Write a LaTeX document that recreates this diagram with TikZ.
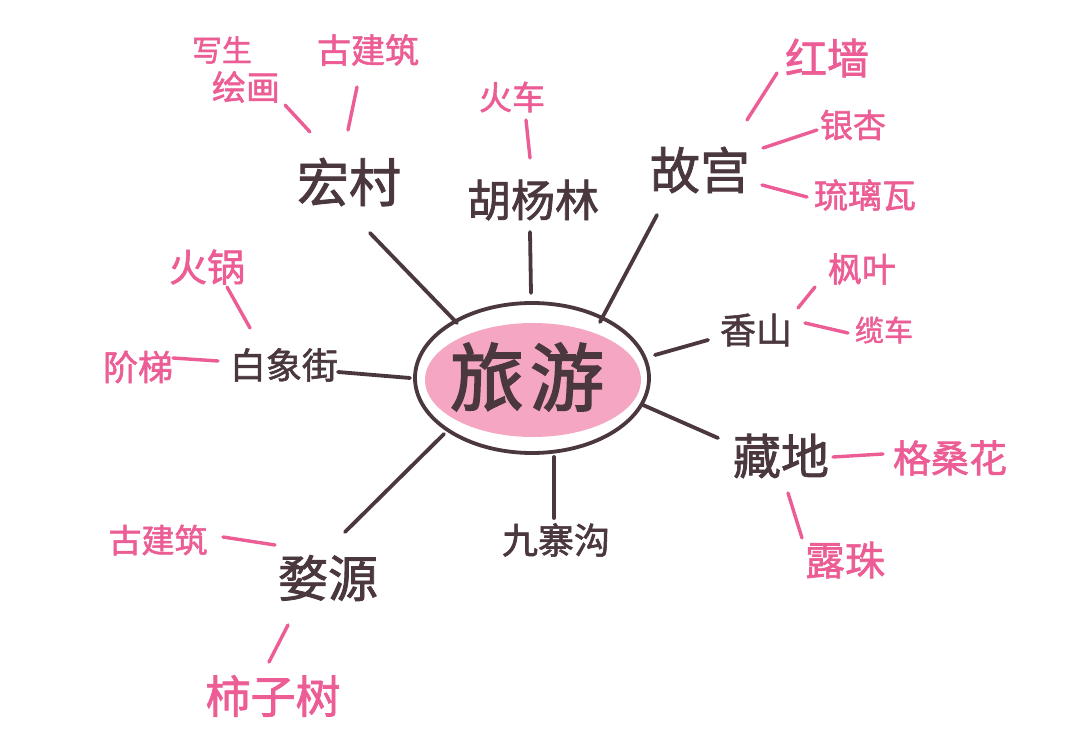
\documentclass[tikz,border=0pt]{standalone}
\usepackage{fontspec}
\newfontfamily\cjk[FakeBold=1.6]{Noto Sans CJK SC}
\newfontfamily\cjkt[FakeBold=2.2]{Noto Sans CJK SC}
\usetikzlibrary{calc,shapes.geometric}
\definecolor{ink}{HTML}{4B383F}
\definecolor{rose}{HTML}{EC5D95}
\definecolor{blush}{HTML}{F5A6C2}
\begin{document}
\begin{tikzpicture}[x=1pt,y=-1pt,
  hub/.style={font=\cjk\fontsize{#1}{#1}\selectfont, text=ink, inner sep=0pt},
  leaf/.style={font=\cjk\fontsize{#1}{#1}\selectfont, text=rose, inner sep=0pt},
  branch/.style={draw=ink, line width=3.8pt, line cap=round},
  twig/.style={draw=rose, line width=3.4pt, line cap=round}]
\useasboundingbox (0,0) rectangle (1080,754);
\fill[white] (0,0) rectangle (1080,754);

% centre
\fill[blush] (533,380) ellipse [x radius=108, y radius=57];
\node[ellipse, draw=ink, line width=3.8pt, minimum width=234pt, minimum height=150pt, inner sep=0pt] (main) at (532,378) {};
\node[font=\cjkt\fontsize{74}{74}\selectfont, text=ink, inner sep=0pt] (title) at (527,377) {旅\kern6pt游};

% main branches
\node[hub=52] (hongcun) at (349,182) {宏村};
\node[hub=44] (huyanglin) at (533,200) {胡杨林};
\node[hub=50] (gugong) at (700,170) {故宫};
\node[hub=36] (xiangshan) at (756,330) {香山};
\node[hub=48] (zangdi) at (781,456) {藏地};
\node[hub=36] (jiuzhaigou) at (556,540) {九寨沟};
\node[hub=50] (wuyuan) at (328,578) {婺源};
\node[hub=36] (baixiangjie) at (284,365) {白象街};

% leaves
\node[leaf=30] (xiesheng) at (222,50) {写生};
\node[leaf=34] (huihua) at (246,87) {绘画};
\node[leaf=34] (gujianzhuA) at (368,50) {古建筑};
\node[leaf=33] (huoche) at (512,97) {火车};
\node[leaf=42] (hongqiang) at (827,58) {红墙};
\node[leaf=33] (yinxing) at (853,125) {银杏};
\node[leaf=34] (liuliwa) at (865,195) {琉璃瓦};
\node[leaf=34] (fengye) at (862,269) {枫叶};
\node[leaf=29] (lanche) at (884,330) {缆车};
\node[leaf=38] (gesanghua) at (950,458) {格桑花};
\node[leaf=40] (luzhu) at (845,560) {露珠};
\node[leaf=33] (gujianzhuB) at (158,540) {古建筑};
\node[leaf=45] (shizishu) at (273,696) {柿子树};
\node[leaf=38] (huoguo) at (207,267) {火锅};
\node[leaf=35] (jieti) at (138,367) {阶梯};

% branch connectors
\draw[branch] ($(main)+(-75,-55)$) -- ($(hongcun)+(21,51)$);
\draw[branch] ($(main)+(-1,-85)$) -- ($(huyanglin)+(-3,32)$);
\draw[branch] ($(main)+(68,-56)$) -- ($(gugong)+(-43,45)$);
\draw[branch] ($(main)+(123,-23)$) -- ($(xiangshan)+(-48,10)$);
\draw[branch] ($(main)+(111,27)$) -- ($(zangdi)+(-63,-18)$);
\draw[branch] ($(main)+(22,79)$) -- ($(jiuzhaigou)+(-2,-22)$);
\draw[branch] ($(main)+(-88,56)$) -- ($(wuyuan)+(17,-46)$);
\draw[branch] ($(main)+(-122,0)$) -- ($(baixiangjie)+(54,7)$);

% leaf connectors
\draw[twig] ($(hongcun)+(-39,-50)$) -- ($(huihua)+(39,18)$);
\draw[twig] ($(hongcun)+(-1,-52)$) -- ($(gujianzhuA)+(-11,37)$);
\draw[twig] ($(huyanglin)+(-3,-42)$) -- ($(huoche)+(14,23)$);
\draw[twig] ($(gugong)+(47,-50)$) -- ($(hongqiang)+(-50,15)$);
\draw[twig] ($(gugong)+(63,-22)$) -- ($(yinxing)+(-36,5)$);
\draw[twig] ($(gugong)+(62,15)$) -- ($(liuliwa)+(-58,2)$);
\draw[twig] ($(xiangshan)+(42,-22)$) -- ($(fengye)+(-47,18)$);
\draw[twig] ($(xiangshan)+(49,-7)$) -- ($(lanche)+(-36,3)$);
\draw[twig] ($(zangdi)+(52,1)$) -- ($(gesanghua)+(-67,-4)$);
\draw[twig] ($(zangdi)+(7,37)$) -- ($(luzhu)+(-43,-22)$);
\draw[twig] ($(wuyuan)+(-53,-33)$) -- ($(gujianzhuB)+(65,-3)$);
\draw[twig] ($(wuyuan)+(-40,47)$) -- ($(shizishu)+(-4,-34)$);
\draw[twig] ($(baixiangjie)+(-34,-37)$) -- ($(huoguo)+(20,20)$);
\draw[twig] ($(baixiangjie)+(-66,-4)$) -- ($(jieti)+(35,-9)$);
\end{tikzpicture}
\end{document}
